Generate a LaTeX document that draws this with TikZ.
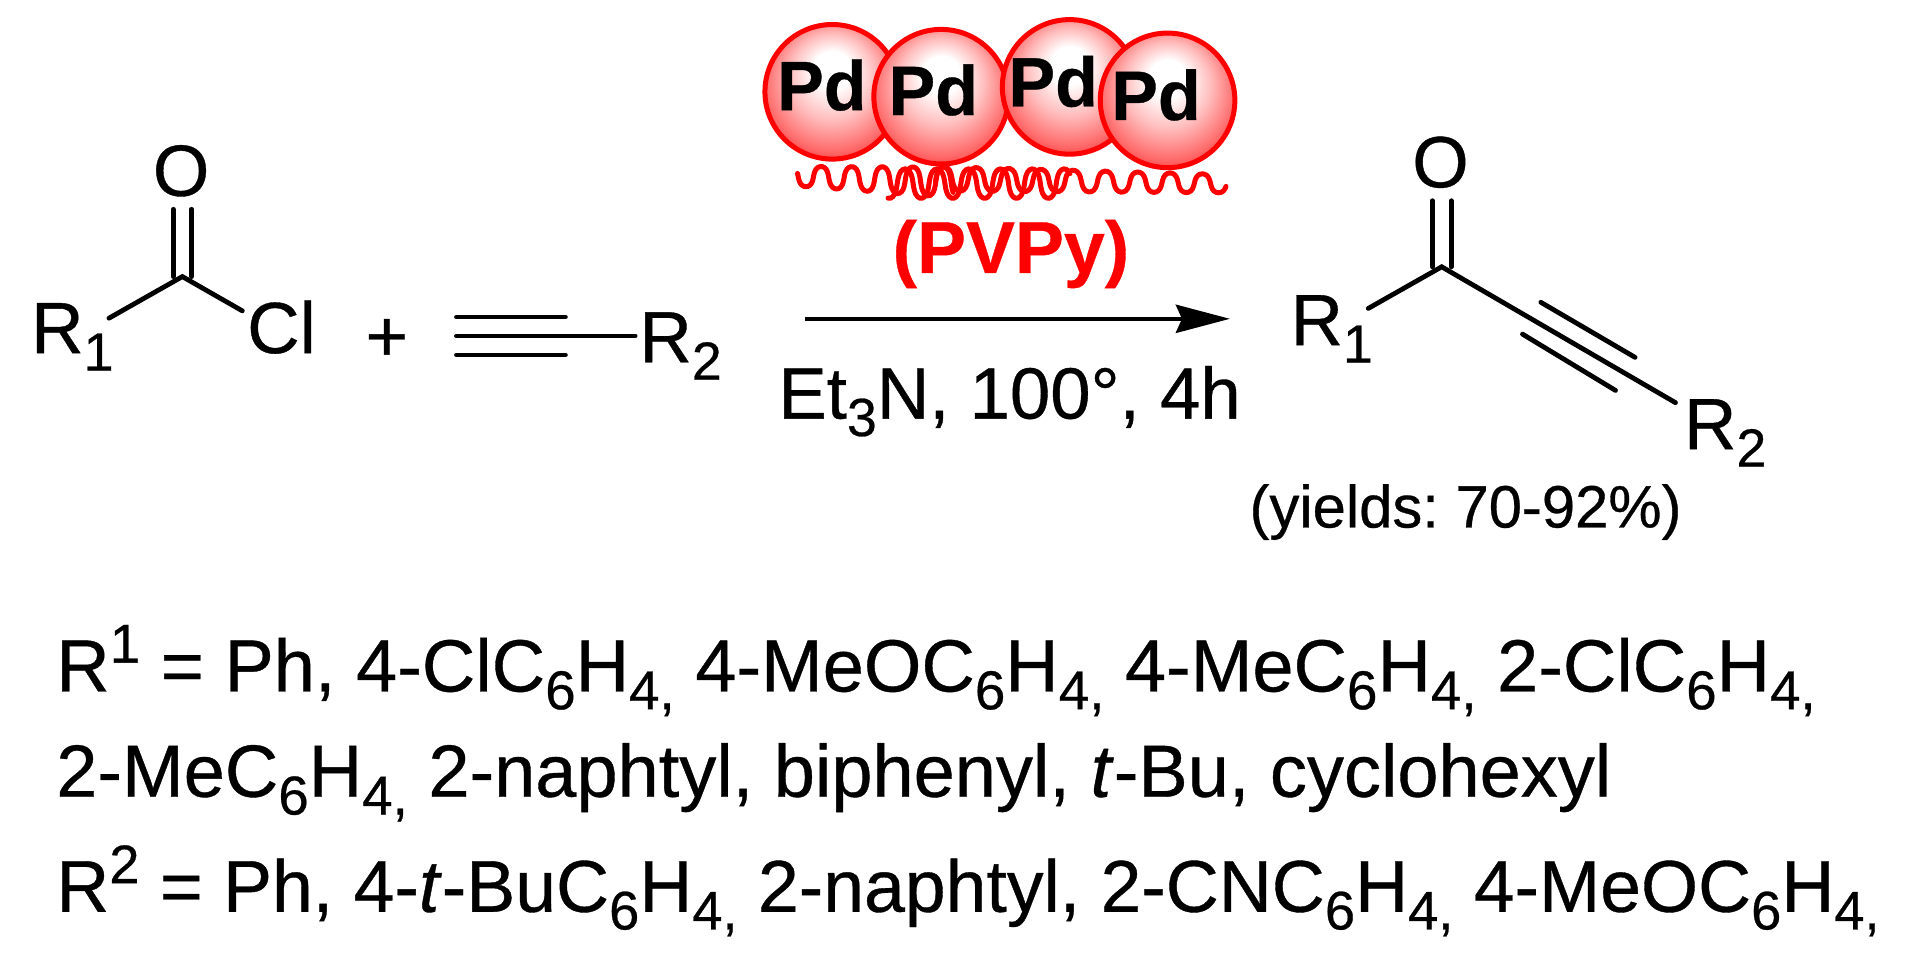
\documentclass[tikz,border=0pt]{standalone}
\usepackage{fontspec}
\setmainfont{Liberation Sans}[RawFeature={embolden=0.5}]
\usetikzlibrary{arrows.meta}
\frenchspacing
\newcommand{\lo}[1]{\raisebox{-.24em}{\scalebox{.74}{#1}}}
\newcommand{\hi}[1]{\raisebox{.39em}{\scalebox{.74}{#1}}}
\pgfdeclareradialshading{pdball}{\pgfpoint{0bp}{10bp}}{color(0bp)=(white); color(7bp)=(white); color(16bp)=(red!26!white); color(25bp)=(red!58!white); color(31bp)=(red!86!white); color(36bp)=(red)}
\tikzset{
  every node/.style={inner sep=0pt,outer sep=0pt},
  txt/.style={font=\fontsize{36.3pt}{44pt}\selectfont,anchor=base west},
  long/.style={font=\fontsize{37pt}{44pt}\selectfont,anchor=base west},
  longer/.style={font=\fontsize{36.7pt}{44pt}\selectfont,anchor=base west},
  small/.style={font=\fontsize{29.9pt}{36pt}\selectfont,anchor=base west},
  bond/.style={line width=2.4pt,line cap=round},
  ball/.style={circle,draw=red,line width=2.5pt,shading=pdball,minimum size=#1},
  pdtxt/.style={font=\fontsize{35pt}{40pt}\selectfont\bfseries,text=black,anchor=base west},
  wave/.style={red,line width=2.5pt,line cap=round,smooth}
}
\begin{document}
\begin{tikzpicture}[x=0.612pt,y=-0.612pt]
\useasboundingbox (0,0) rectangle (1568,785.2);
% left acid chloride
\node[txt,anchor=base] (Oa) at (148,160) {O};
\node[txt] (Ra) at (25.5,288.5) {R\lo{1}};
\node[txt] (Cl) at (202,288.5) {Cl};
\node[txt,anchor=base] (plus) at (316,295) {+};
\coordinate (Ca) at (149,226);
\coordinate (Oaend) at (149,171);
\coordinate (Raend) at (89,260);
\coordinate (Clend) at (198,254);
\draw[bond] ([xshift=-4.6pt]Ca) -- ([xshift=-4.6pt]Oaend);
\draw[bond] ([xshift=4.6pt]Ca) -- ([xshift=4.6pt]Oaend);
\draw[bond] (Raend) -- (Ca) -- (Clend);
% alkyne
\node[txt] (Rb) at (522.5,296) {R\lo{2}};
\coordinate (Ala) at (373,274.5);
\coordinate (Alb) at (462,274.5);
\coordinate (Alc) at (519,274.5);
\draw[bond] (Ala) -- (Alc);
\draw[bond] ([yshift=-9.5pt]Ala) -- ([yshift=-9.5pt]Alb);
\draw[bond] ([yshift=9.5pt]Ala) -- ([yshift=9.5pt]Alb);
% polymer
\draw[wave] plot[domain=651:780,samples=120,variable=\t] ({\t+1.2*sin(2*(\t-658.4)*14.4)},{144+(\t-651)*0.039+(8+(\t-651)*0.035)*sin((\t-658.4)*14.4+90)});
\draw[wave] plot[domain=726:873,samples=120,variable=\t] ({\t+1.2*sin(2*(\t-778.6)*13.85)},{150+12*sin((\t-778.6)*13.85+90)});
\draw[wave] plot[domain=764:1001,samples=180,variable=\t] ({\t+1.2*sin(2*(\t-995.7)*13.64)},{146+(\t-764)*0.017+(10-(\t-764)*0.0105)*sin((\t-995.7)*13.64+90)});
% palladium spheres
\node[ball=67.3pt] (Sa) at (680,75) {};
\node[ball=67.3pt] (Sb) at (769,79) {};
\node[ball=67.3pt] (Sc) at (874,71) {};
\node[ball=67.3pt] (Sd) at (954,82) {};
\node[pdtxt] (Pa) at (635,90) {Pd};
\node[pdtxt] (Pb) at (726,94) {Pd};
\node[pdtxt] (Pc) at (824,87) {Pd};
\node[pdtxt] (Pd) at (908,98) {Pd};
\node[font=\fontsize{36.7pt}{44pt}\selectfont\bfseries,text=red,anchor=base] (PVPy) at (826,223) {(PVPy)};
% arrow
\coordinate (Ars) at (658,260.5);
\coordinate (Are) at (1005,260.5);
\draw[line width=2.3pt,-{Stealth[length=27pt,width=14pt,inset=3pt]}] (Ars) -- (Are);
\node[txt] (cond) at (636,342) {Et\lo{3}N, 100°, 4h};
% product
\node[txt,anchor=base] (Ob) at (1177,153) {O};
\node[txt] (Rc) at (1054.5,282) {R\lo{1}};
\node[txt] (Rd) at (1376,367) {R\lo{2}};
\coordinate (Cb) at (1178,218);
\coordinate (Obend) at (1178,164);
\coordinate (Rcend) at (1118,252);
\coordinate (Rdend) at (1369,329);
\coordinate (Ta) at (1259,247);
\coordinate (Tb) at (1336,292);
\coordinate (Tc) at (1244,273);
\coordinate (Td) at (1320,319);
\draw[bond] ([xshift=-4.7pt]Cb) -- ([xshift=-4.7pt]Obend);
\draw[bond] ([xshift=4.7pt]Cb) -- ([xshift=4.7pt]Obend);
\draw[bond] (Rcend) -- (Cb) -- (Rdend);
\draw[bond] (Ta) -- (Tb);
\draw[bond] (Tc) -- (Td);
\node[small] (yld) at (1021,431) {(yields: 70-92\%)};
% substituents
\node[long] (l1) at (46,565) {R\hi{1} = Ph, 4-ClC\lo{6}H\lo{4,} 4-MeOC\lo{6}H\lo{4,} 4-MeC\lo{6}H\lo{4,} 2-ClC\lo{6}H\lo{4,}};
\node[long] (l2) at (46,651) {2-MeC\lo{6}H\lo{4,} 2-naphtyl, biphenyl, \textit{t}-Bu, cyclohexyl};
\node[longer] (l3) at (46,745) {R\hi{2} = Ph, 4-\textit{t}-BuC\lo{6}H\lo{4,} 2-naphtyl, 2-CNC\lo{6}H\lo{4,} 4-MeOC\lo{6}H\lo{4,}};
\end{tikzpicture}
\end{document}
